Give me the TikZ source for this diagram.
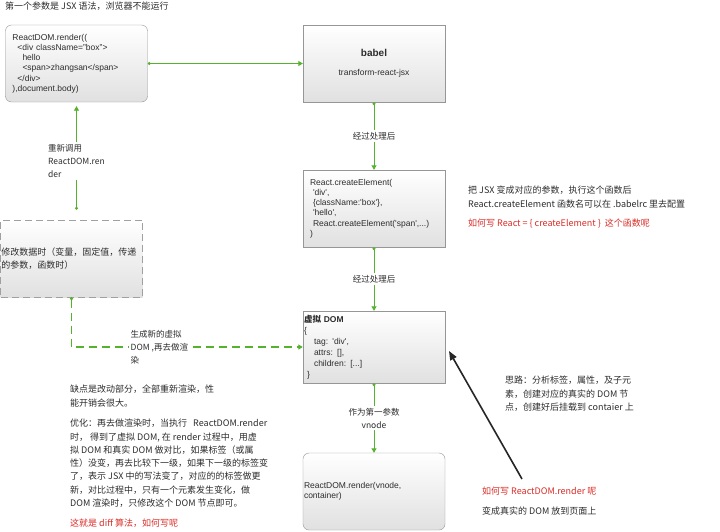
\documentclass[tikz,border=0pt]{standalone}
\usepackage{fontspec}
\setmainfont{Liberation Sans}
\newfontfamily\cjk{Noto Sans CJK SC}
\usetikzlibrary{arrows.meta}
\definecolor{linegreen}{RGB}{84,178,44}
\definecolor{edge}{RGB}{150,150,150}
\definecolor{notered}{RGB}{218,45,40}
\definecolor{ink}{RGB}{45,45,45}
\newcommand{\q}{\textquotesingle}

\begin{document}
\begin{tikzpicture}[x=1pt, y=-1pt,
    every node/.style={text=ink, font=\fontsize{8.5}{10.2}\selectfont},
    box/.style={rectangle, draw=edge, top color=white, bottom color=black!12, minimum width=142pt, minimum height=77pt, inner xsep=1pt, inner ysep=0pt, text width=140pt, align=left},
    dashbox/.style={box, draw=edge!90, dash pattern=on 7pt off 4pt},
    lbl/.style={font=\cjk\fontsize{8.5}{13}\selectfont, fill=white, inner sep=2pt},
    note/.style={font=\cjk\fontsize{9}{13.3}\selectfont, anchor=north west, inner sep=0pt, align=left},
    arr/.style={draw=linegreen, line width=0.9pt, {Circle[length=3pt]}-{Triangle[length=4.5pt,width=5pt]}},
    dasharr/.style={arr, line width=1.1pt, dash pattern=on 8pt off 5pt},
    push/.style={-{Triangle[length=9pt,width=7pt]}, line width=1.6pt, black!85}
]
\useasboundingbox[fill=white] (0,0) rectangle (720,531);

\node[note, font=\cjk\fontsize{9}{10}\selectfont] (title) at (5,2) {第一个参数是 JSX 语法，浏览器不能运行};

\node[box, rounded corners=6pt, inner xsep=7pt, text width=128pt] (jsx) at (76.5,63.5) {ReactDOM.render((\\
\hspace*{5pt}<div className="box">\\
\hspace*{10pt}hello\\
\hspace*{10pt}<span>zhangsan</span>\\
\hspace*{5pt}</div>\\
),document.body)};
\node[box, align=center] (babel) at (374,63.5) {\textbf{\fontsize{10}{12}\selectfont babel}\\[9pt]transform-react-jsx};
\node[box, inner xsep=7pt, text width=128pt] (ce) at (374,208.5) {React.createElement(\\
\hspace*{3pt}\q div\q,\\
\hspace*{3pt}\{className:\q box\q\},\\
\hspace*{3pt}\q hello\q,\\
\hspace*{3pt}React.createElement(\q span\q,...)\\
)};
\node[box, minimum height=72pt, font=\fontsize{8.5}{11}\selectfont] (vdom) at (374,347) {\textbf{{\cjk 虚拟} DOM}\\
\{\\
\hspace*{10pt}tag: \q div\q,\\
\hspace*{10pt}attrs: [],\\
\hspace*{10pt}children: [...]\\
\hspace*{3pt}\}};
\node[box, rounded corners=6pt] (rend) at (374,491.5) {ReactDOM.render(vnode,\\container)};
\node[dashbox, font=\cjk\fontsize{9}{13}\selectfont] (modify) at (71.5,258.5) {修改数据时（变量，固定值，传递\\的参数，函数时）};

\draw[arr] (jsx.east) -- (babel.west);
\draw[arr] (babel.south) -- node[lbl]{经过处理后} (ce.north);
\draw[arr] (ce.south) -- node[lbl]{经过处理后} (vdom.north);
\draw[arr] (vdom.south) -- node[lbl, align=center]{作为第一参数\\vnode} (rend.north);
\draw[arr, shorten <=10pt, shorten >=4pt] (modify.north -| jsx.south) -- node[lbl, align=left]{重新调用\\ReactDOM.ren\\der} (jsx.south);
\draw[dasharr, linegreen] (modify.south) |- node[lbl, pos=0.69, align=left]{生成新的虚拟\\DOM ,再去做渲\\染} (vdom.west);

\coordinate (tail) at (522,479);
\coordinate (tip) at (449,351);
\draw[push] (tail) -- (tip);

\node[note] (jsxnote) at (468,186) {把 JSX 变成对应的参数，执行这个函数后\\React.createElement 函数名可以在 .babelrc 里去配置};
\node[note, text=notered] (cenote) at (468,219) {如何写 React = \{ createElement \}\ \ 这个函数呢};
\node[note] (idea) at (505,376) {思路：分析标签，属性，及子元\\素，创建对应的真实的 DOM 节\\点，创建好后挂载到 contaier 上};
\node[note, text=notered] (rendq) at (482,487) {如何写 ReactDOM.render 呢};
\node[note] (rendnote) at (482,507) {变成真实的 DOM 放到页面上};
\node[note] (cons) at (70,385) {缺点是改动部分，全部重新渲染，性\\能开销会很大。};
\node[note] (opt) at (70,419) {优化：再去做渲染时，当执行\ \ \ ReactDOM.render\\
时，\ 得到了虚拟 DOM, 在 render 过程中，用虚\\
拟 DOM 和真实 DOM 做对比，如果标签（或属\\
性）没变，再去比较下一级，如果下一级的标签变\\
了，表示 JSX 中的写法变了，对应的的标签做更\\
新，对比过程中，只有一个元素发生变化，做\\
DOM 渲染时，只修改这个 DOM 节点即可。};
\node[note, text=notered] (diff) at (70,519) {这就是 diff 算法，如何写呢};
\end{tikzpicture}
\end{document}
